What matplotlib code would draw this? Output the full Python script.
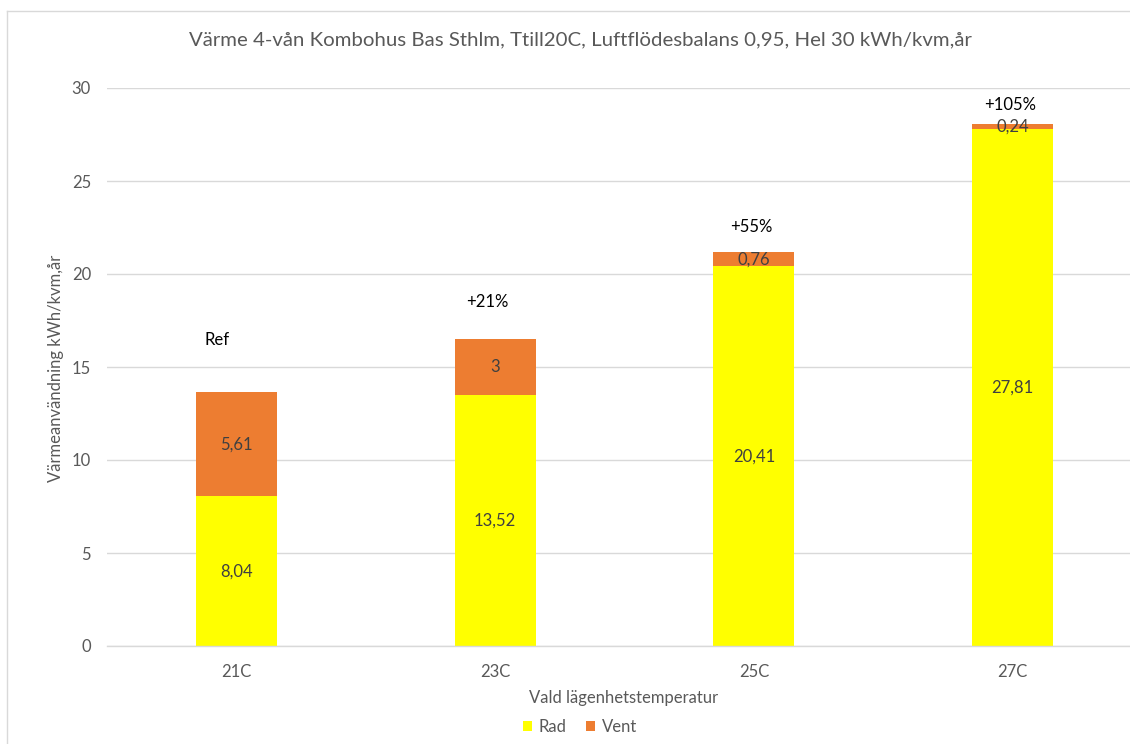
import matplotlib
matplotlib.use("Agg")
import matplotlib.pyplot as plt
from matplotlib.lines import Line2D
from matplotlib.patches import Patch

plt.rcParams['font.family'] = ['Lato', 'DejaVu Sans']

categories = ['21C', '23C', '25C', '27C']
rad = [8.04, 13.52, 20.41, 27.81]
vent = [5.61, 3.0, 0.76, 0.24]
rad_labels = ['8,04', '13,52', '20,41', '27,81']
vent_labels = ['5,61', '3', '0,76', '0,24']
notes = ['Ref', '+21%', '+55%', '+105%']
note_y = [16.45, 18.5, 22.5, 29.1]
note_dx = [-0.075, -0.03, -0.01, -0.01]

W, H = 1130, 744
fig = plt.figure(figsize=(W / 100, H / 100), dpi=100)
ax = fig.add_axes([107 / W, 98 / H, (1142 - 107) / W, (646 - 88) / H])

x = list(range(len(categories)))
yellow = '#FFFF00'
orange = '#ED7D31'
fs = 12
ax.bar(x, rad, width=0.313, color=yellow, zorder=2, label='Rad')
ax.bar(x, vent, width=0.313, bottom=rad, color=orange, zorder=2, label='Vent')

for i in x:
    ax.text(i, rad[i] / 2, rad_labels[i], ha='center', va='center',
            fontsize=fs, color='#404040', zorder=3)
    ax.text(i, rad[i] + vent[i] / 2, vent_labels[i], ha='center', va='center',
            fontsize=fs, color='#404040', zorder=3)
    ax.text(i + note_dx[i], note_y[i], notes[i], ha='center', va='center',
            fontsize=fs, color='#000000', zorder=3)

ax.set_xlim(-0.5, len(categories) - 0.5)
ax.set_ylim(0, 30)
ax.set_yticks([0, 5, 10, 15, 20, 25, 30])
ax.set_xticks(x)
ax.set_xticklabels(categories)
ax.grid(axis='y', color='#D9D9D9', linewidth=1.0, zorder=0)
ax.set_axisbelow(True)
for s in ['top', 'right', 'left']:
    ax.spines[s].set_visible(False)
ax.spines['bottom'].set_color('#D9D9D9')
ax.spines['bottom'].set_linewidth(1.0)
ax.tick_params(axis='both', length=0, labelsize=fs, labelcolor='#595959')
ax.tick_params(axis='y', pad=11.5)
ax.tick_params(axis='x', pad=13)

fig.text(580 / W, 1 - 40 / H, 'Värme 4-vån Kombohus Bas Sthlm, Ttill20C, Luftflödesbalans 0,95, Hel 30 kWh/kvm,år',
         ha='center', va='center', fontsize=14.7, color='#595959')
fig.text(56 / W, 1 - 368 / H, 'Värmeanvändning kWh/kvm,år', rotation=90,
         ha='center', va='center', fontsize=fs, color='#595959')
fig.text(624 / W, 1 - 698 / H, 'Vald lägenhetstemperatur',
         ha='center', va='center', fontsize=fs, color='#595959')

handles = [Patch(facecolor=yellow, edgecolor='none'), Patch(facecolor=orange, edgecolor='none')]
fig.legend(handles, ['Rad', 'Vent'], loc='center', bbox_to_anchor=(580 / W, 1 - 727 / H),
           ncol=2, frameon=False, fontsize=fs, handlelength=0.55, handleheight=0.55,
           handletextpad=0.4, columnspacing=1.2, labelcolor='#595959')

# chart border (top and left visible)
fig.add_artist(Line2D([7 / W, 7 / W], [0, 1 - 11 / H], transform=fig.transFigure,
                      color='#D9D9D9', linewidth=1.0))
fig.add_artist(Line2D([7 / W, 1.0], [1 - 11 / H, 1 - 11 / H], transform=fig.transFigure,
                      color='#D9D9D9', linewidth=1.0))

fig.savefig('out.png', dpi=100, facecolor='white')
